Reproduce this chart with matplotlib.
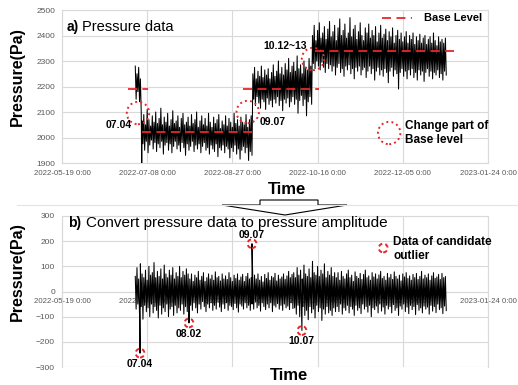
import matplotlib
matplotlib.use("Agg")
import matplotlib.pyplot as plt
from matplotlib.patches import Polygon
from matplotlib.lines import Line2D
import numpy as np

plt.rcParams['font.family'] = ['Liberation Sans', 'DejaVu Sans']

# x axis: days since 2022-05-19 0:00
tick_days = [0, 50, 100, 150, 200, 250]
tick_labels = ['2022-05-19 0:00', '2022-07-08 0:00', '2022-08-27 0:00',
               '2022-10-16 0:00', '2022-12-05 0:00', '2023-01-24 0:00']
first_day = 43          # 2022-07-01; one upper and one lower reading per day

# a) raw pressure (Pa), daily upper / lower readings, by base-level period
hi_0701 = [2280, 2250, 2275, 2230]
lo_0701 = [2150, 2180, 2140, 2100]
hi_0705 = [2065, 2090, 2050, 2110, 2070, 2045, 2085, 2060, 2100, 2055,
           2075, 2115, 2050, 2080, 2060, 2095, 2045, 2070, 2105, 2055,
           2065, 2085, 2040, 2075, 2095, 2050, 2060, 2080, 2045, 2090,
           2055, 2070, 2100, 2040, 2065, 2085, 2050, 2075, 2045, 2095,
           2060, 2040, 2080, 2055, 2070, 2090, 2035, 2065, 2050, 2085,
           2045, 2075, 2060, 2040, 2095, 2055, 2070, 2045, 2080, 2060,
           2050, 2090, 2040, 2070, 2085]
lo_0705 = [1975, 1950, 1985, 1940, 1970, 1990, 1955, 1980, 1945, 1975,
           1960, 1985, 1935, 1970, 1980, 1950, 1975, 1940, 1965, 1985,
           1955, 1970, 1945, 1980, 1960, 1930, 1975, 1950, 1965, 1985,
           1945, 1970, 1955, 1975, 1940, 1965, 1980, 1950, 1960, 1935,
           1970, 1955, 1945, 1975, 1925, 1960, 1950, 1970, 1940, 1965,
           1955, 1920, 1960, 1945, 1970, 1935, 1955, 1915, 1950, 1965,
           1940, 1960, 1910, 1945, 1930]
hi_0908 = [2250, 2275, 2230, 2260, 2240, 2280, 2235, 2265, 2245, 2270,
           2230, 2255, 2285, 2240, 2260, 2300, 2250, 2275, 2245, 2290,
           2265, 2310, 2255, 2280, 2295, 2260, 2320, 2270, 2285, 2250,
           2300, 2275, 2265, 2310, 2280]
lo_0908 = [2150, 2125, 2160, 2135, 2115, 2150, 2140, 2110, 2155, 2130,
           2145, 2120, 2150, 2135, 2160, 2125, 2145, 2105, 2150, 2135,
           2155, 2120, 2140, 2160, 2130, 2150, 2095, 2145, 2165, 2125,
           2150, 2085, 2140, 2160, 2130]
hi_1013 = [2400, 2440, 2380, 2420, 2450, 2390, 2410, 2435, 2385, 2425,
           2455, 2395, 2415, 2440, 2380, 2430, 2465, 2400, 2420, 2445,
           2390, 2410, 2470, 2395, 2425, 2440, 2385, 2415, 2450, 2400,
           2380, 2430, 2410, 2445, 2390, 2420, 2400, 2435, 2375, 2410,
           2440, 2390, 2405, 2425, 2380, 2415, 2395, 2430, 2370, 2400,
           2420, 2385, 2410, 2375, 2395, 2415, 2370, 2400, 2385, 2410,
           2365, 2395, 2380, 2405, 2370, 2390, 2400, 2365, 2385, 2395,
           2370, 2410, 2380, 2360, 2395, 2375, 2385, 2370, 2390]
lo_1013 = [2290, 2270, 2300, 2280, 2265, 2295, 2275, 2255, 2290, 2270,
           2285, 2260, 2280, 2245, 2275, 2290, 2255, 2270, 2240, 2280,
           2265, 2285, 2250, 2270, 2230, 2275, 2260, 2280, 2245, 2265,
           2275, 2235, 2260, 2280, 2250, 2270, 2225, 2260, 2275, 2245,
           2265, 2240, 2270, 2255, 2215, 2260, 2275, 2240, 2265, 2250,
           2190, 2255, 2270, 2240, 2260, 2230, 2265, 2245, 2270, 2235,
           2255, 2225, 2265, 2245, 2260, 2220, 2255, 2270, 2240, 2260,
           2230, 2255, 2245, 2265, 2235, 2250, 2225, 2260, 2245]
press_drop_day = [46.8]
press_drop_val = [1860]

# base levels
base_start = [38.7, 47.0, 106.0, 148.5]
base_end = [50.5, 112.0, 151.0, 231.0]
base_val = [2190, 2020, 2190, 2340]

# b) pressure amplitude (Pa), daily upper / lower readings
amp_hi_jul = [60, 95, 50, 110, 70, 55, 85, 45, 100, 65, 75, 115, 55, 80, 60, 90, 50, 105, 70, 55,
              85, 65, 95, 50, 75, 60, 100, 55, 80, 65, 90, 70]
amp_lo_jul = [-70, -50, -95, -60, -110, -55, -80, -65, -100, -50, -85, -60, -75, -105, -55, -90,
              -65, -80, -50, -100, -70, -60, -95, -55, -85, -65, -75, -50, -90, -60, -80, -70]
amp_hi_aug = [50, 70, 40, 65, 55, 80, 45, 60, 75, 40, 55, 70, 50, 65, 45, 78, 55, 60, 42, 70,
              50, 62, 48, 75, 55, 40, 65, 52, 70, 45, 58, 68, 40, 60, 72, 50]
amp_lo_aug = [-55, -75, -45, -65, -85, -50, -70, -40, -60, -80, -50, -65, -45, -75, -55, -70,
              -40, -62, -80, -50, -68, -45, -75, -55, -60, -72, -48, -65, -82, -50, -58, -70,
              -45, -65, -55, -75]
amp_hi_sep = [55, 40, 65, 50, 70, 45, 60, 38, 68, 52, 75, 45, 60, 55, 72, 42, 65, 50, 58, 70,
              48, 62, 80, 55, 68]
amp_lo_sep = [-50, -70, -40, -65, -55, -78, -45, -60, -72, -50, -65, -45, -80, -55, -62, -48,
              -70, -55, -75, -50, -65, -58, -72, -45, -68]
amp_hi_oct = [75, 55, 95, 65, 85, 50, 105, 70, 60, 90, 55, 120, 75, 65, 100, 60, 85, 70, 110, 55,
              80, 65, 95, 60, 75]
amp_lo_oct = [-65, -90, -55, -100, -70, -60, -95, -75, -112, -60, -85, -70, -105, -55, -80, -65,
              -115, -70, -90, -60, -85, -75, -95, -65, -80]
amp_hi_nov = [55, 75, 45, 80, 60, 50, 70, 85, 55, 65, 40, 78, 60, 52, 72, 48, 68, 85, 55, 62,
              45, 75, 58, 70, 50, 66, 80, 52, 60, 45, 72, 55, 68, 48, 78, 60, 50, 65, 42, 70,
              58, 75, 52, 62, 45, 68, 55, 72, 48, 60, 80, 50, 65, 55, 70, 45, 62, 75, 52, 58,
              68, 48, 72, 55, 60]
amp_lo_nov = [-60, -80, -50, -90, -65, -75, -55, -85, -60, -70, -95, -55, -75, -65, -88, -50,
              -70, -60, -82, -55, -100, -65, -72, -58, -85, -50, -78, -62, -90, -55, -70, -60,
              -85, -52, -75, -65, -95, -58, -70, -50, -80, -62, -88, -55, -72, -60, -92, -52,
              -75, -65, -85, -58, -70, -62, -90, -55, -78, -60, -84, -50, -72, -65, -88, -58, -76]

outlier_labels = ['07.04', '08.02', '09.07', '10.07']
outlier_day = [45.8, 74.5, 111.5, 140.8]
outlier_val = [-245, -125, 190, -155]

press_hi = hi_0701 + hi_0705 + hi_0908 + hi_1013
press_lo = lo_0701 + lo_0705 + lo_0908 + lo_1013
amp_hi = amp_hi_jul + amp_hi_aug + amp_hi_sep + amp_hi_oct + amp_hi_nov
amp_lo = amp_lo_jul + amp_lo_aug + amp_lo_sep + amp_lo_oct + amp_lo_nov


def trace(hi, lo, extra_x, extra_y):
    t = first_day + np.arange(len(hi))
    xs = np.column_stack([t, t + 0.5]).ravel()
    ys = np.column_stack([hi, lo]).ravel()
    xs = np.concatenate([xs, extra_x])
    ys = np.concatenate([ys, extra_y])
    order = np.argsort(xs, kind='stable')
    return xs[order], ys[order]


W, H = 518, 385
fig = plt.figure(figsize=(W / 100, H / 100), dpi=100)


def px(x, y):
    return x / W, 1 - y / H


grid_c = '#d9d9d9'
tick_c = '#595959'
red = '#e8262a'


def style(ax):
    ax.set_xlim(0, 250)
    ax.set_xticks(tick_days)
    ax.set_xticklabels(tick_labels)
    ax.grid(True, color=grid_c, lw=0.8)
    ax.set_axisbelow(True)
    for s in ax.spines.values():
        s.set_color(grid_c)
        s.set_linewidth(0.8)
    ax.tick_params(length=0, colors=tick_c, pad=5)
    ax.tick_params(axis='x', labelsize=5.6)
    ax.tick_params(axis='y', labelsize=6)


# ---- a) ----
ax1 = fig.add_axes([62 / W, 1 - 163 / H, 426 / W, 153 / H])
style(ax1)
ax1.set_ylim(1900, 2500)
ax1.set_yticks(range(1900, 2501, 100))
x, y = trace(press_hi, press_lo, press_drop_day, press_drop_val)
ax1.plot(x, y, color='black', lw=0.75, zorder=3)
ax1.hlines(base_val, base_start, base_end, colors=red, linestyles=(0, (5, 3)), lw=1.3, zorder=4)
ax1.scatter([44.6, 109.0, 147.3], [2096, 2100, 2308], s=260, facecolors='none',
            edgecolors=red, linestyles=':', linewidths=1.4, zorder=5)
ax1.text(33.5, 2049, '07.04', fontsize=7.5, fontweight='bold', ha='center', va='center')
ax1.text(123.8, 2061, '09.07', fontsize=7.5, fontweight='bold', ha='center', va='center')
ax1.text(130.9, 2359, '10.12~13', fontsize=7.5, fontweight='bold', ha='center', va='center')
ax1.add_line(Line2D([0.751, 0.822], [0.948, 0.948], transform=ax1.transAxes,
                    color=red, ls=(0, (5, 3)), lw=1.3))
ax1.text(0.85, 0.948, 'Base Level', transform=ax1.transAxes, fontsize=8,
         fontweight='bold', va='center')
ax1.scatter([0.768], [0.196], s=260, transform=ax1.transAxes, facecolors='none',
            edgecolors=red, linestyles=':', linewidths=1.4, zorder=5)
ax1.text(0.805, 0.196, 'Change part of\nBase level', transform=ax1.transAxes,
         fontsize=8.5, fontweight='bold', va='center', linespacing=1.2)

# ---- b) ----
ax2 = fig.add_axes([62 / W, 1 - 367 / H, 426 / W, 151 / H])
style(ax2)
ax2.set_ylim(-300, 300)
ax2.set_yticks(range(-300, 301, 100))
ax2.spines['bottom'].set_position(('data', 0))
x, y = trace(amp_hi, amp_lo, outlier_day, outlier_val)
ax2.plot(x, y, color='black', lw=0.75, zorder=3)
ax2.scatter(outlier_day, outlier_val, s=40, facecolors='none', edgecolors=red,
            linestyles=(0, (2.2, 1.6)), linewidths=1.4, zorder=5)
for lab, d, v in zip(outlier_labels, outlier_day, outlier_val):
    off = 34 if v > 0 else -42
    ax2.text(d, v + off, lab, fontsize=7.5, fontweight='bold', ha='center', va='center')
ax2.scatter([0.754], [0.788], s=40, transform=ax2.transAxes, facecolors='none',
            edgecolors=red, linestyles=(0, (2.2, 1.6)), linewidths=1.4, zorder=5)
ax2.text(0.777, 0.78, 'Data of candidate\noutlier', transform=ax2.transAxes,
         fontsize=8.5, fontweight='bold', va='center', linespacing=1.2)

# titles and axis labels
fig.text(*px(67, 27), 'a)', fontsize=10, fontweight='bold', va='center')
fig.text(*px(82, 27), 'Pressure data', fontsize=10.5, va='center')
fig.text(*px(68, 223), 'b)', fontsize=10, fontweight='bold', va='center')
fig.text(*px(86, 223), 'Convert pressure data to pressure amplitude', fontsize=11, va='center')
fig.text(*px(17, 77), 'Pressure(Pa)', fontsize=11.5, fontweight='bold', rotation=90,
         ha='center', va='center')
fig.text(*px(17, 272), 'Pressure(Pa)', fontsize=11.5, fontweight='bold', rotation=90,
         ha='center', va='center')
fig.text(*px(287, 189), 'Time', fontsize=12, fontweight='bold', ha='center', va='center')
fig.text(*px(289, 376), 'Time', fontsize=12, fontweight='bold', ha='center', va='center')

# separator line and block arrow between the panels
fig.add_artist(Line2D([17 / W, 1], [1 - 205 / H] * 2, color='#e4e4e4', lw=0.8))
arrow_px = [(260, 200), (318, 200), (318, 205), (347, 205), (285, 215), (222, 205), (260, 205)]
fig.add_artist(Polygon([px(a, b) for a, b in arrow_px], closed=True, facecolor='white',
                       edgecolor='black', lw=0.8))

fig.savefig('out.png', dpi=100)
